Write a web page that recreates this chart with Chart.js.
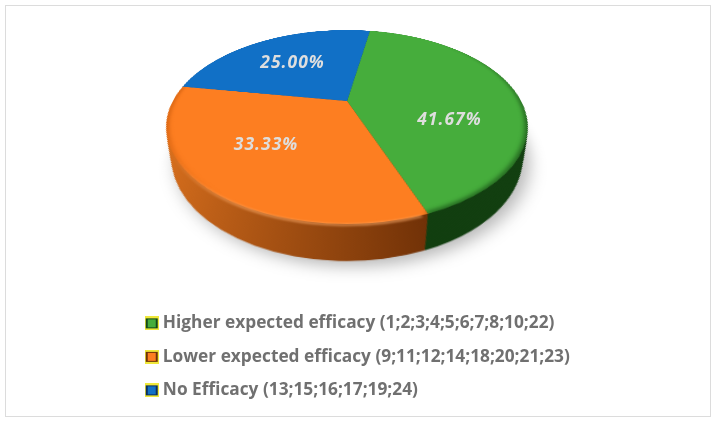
<!DOCTYPE html>
<html><head><meta charset="utf-8">
<script src="https://cdn.jsdelivr.net/npm/chart.js@4"></script>
<style>
html,body{margin:0;padding:0;background:#fff;width:716px;height:423px;overflow:hidden}
canvas{position:absolute;left:0;top:0;display:block}
#frame{position:absolute;left:5px;top:5px;width:704px;height:410px;border:1px solid #dcdcdc}
#disc{transform-origin:0 0}
</style></head><body>
<div id="frame"></div>
<canvas id="disc" width="500" height="540"></canvas>
<canvas id="over" width="716" height="423"></canvas>
<script>
const categories=["Higher expected efficacy (1;2;3;4;5;6;7;8;10;22)","Lower expected efficacy (9;11;12;14;18;20;21;23)","No Efficacy (13;15;16;17;19;24)"];
const shares=[41.67,33.33,25.00];
const shareLabels=["41.67%","33.33%","25.00%"];
const topColors=["#46ad3c","#fd7e21","#1170c6"];
const wallStops=[["#103c0e","#123f10"],["#e0741f","#682c05"],["#0b4a86","#0b4a86"]];
const markerDark=["#14491a","#6b3208","#0c2f5c"];
const labelNudge=[[0,24],[-5,-3],[-1,1]];

// projective placement of the disc on the page
const CX=347,CY=101,A_=174,B_=90,K=.268,R=180,C0=250;
function proj(u,v){const w=1-K*v;return [CX+A_*u/w,CY+B_*v/w];}
const A=1+K*C0/R,B=-K/R,sx=A_/R,sy=B_/R;
document.getElementById('disc').style.transform='matrix3d('+[sx,0,0,0, CX*B,CY*B+sy,0,B, 0,0,1,0, CX*A-sx*C0,CY*A-sy*C0,0,A].join(',')+')';

const WALL_Y=37,WALL_BOTTOM=224,LAYERS=60,SHRINK=.11;
function vOfY(y){const d=y-CY;return d/(B_+K*d);}
const deg=d=>d/360;
const wallPlugin={id:'wall',beforeDatasetsDraw(chart){
  const ctx=chart.ctx,arcs=chart.getDatasetMeta(0).data;
  const x0=arcs[0].x,y0=arcs[0].y;
  // soft shadow under the pie
  {const r=1-SHRINK,c=vOfY(WALL_BOTTOM+WALL_Y)-r;
   ctx.save();ctx.filter='blur(7px)';ctx.fillStyle='rgba(0,0,0,.28)';
   ctx.beginPath();ctx.arc(x0+5,y0+c*R+5,R*r,0,Math.PI*2);ctx.fill();ctx.restore();}
  for(let i=LAYERS;i>=0;i--){
    const t=i/LAYERS,r=1-SHRINK*t,c=vOfY(WALL_BOTTOM+WALL_Y*t)-r;
    arcs.forEach((a,k)=>{
      const g=ctx.createLinearGradient(x0-R,0,x0+R,0);
      if(k===1){g.addColorStop(0,wallStops[1][0]);g.addColorStop(.72,wallStops[1][1]);g.addColorStop(1,wallStops[1][1]);}
      else{g.addColorStop(0,wallStops[k][0]);g.addColorStop(1,wallStops[k][1]);}
      ctx.save();
      ctx.fillStyle=g;
      ctx.beginPath();
      const px=x0,py=y0+c*R;
      ctx.moveTo(px,py);ctx.arc(px,py,R*r,a.startAngle,a.endAngle);ctx.closePath();ctx.fill();
      ctx.restore();
    });
  }
},afterDatasetsDraw(chart){
  const ctx=chart.ctx,arcs=chart.getDatasetMeta(0).data,x0=arcs[0].x,y0=arcs[0].y;
  // soft dark bevel on the green rim
  ctx.save();
  ctx.beginPath();ctx.arc(x0,y0,R,0,Math.PI*2);ctx.clip();
  ctx.filter='blur(2px)';
  const rim=ctx.createConicGradient(-Math.PI/2,x0,y0);
  rim.addColorStop(deg(40),'rgba(10,50,10,0)');
  rim.addColorStop(deg(100),'rgba(10,50,10,.6)');
  rim.addColorStop(deg(160),'rgba(10,50,10,.6)');
  rim.addColorStop(deg(161),'rgba(10,50,10,0)');
  ctx.strokeStyle=rim;ctx.lineWidth=5;
  ctx.beginPath();ctx.arc(x0,y0,R,arcs[0].startAngle,arcs[0].endAngle);ctx.stroke();
  // darker crescent on the far-left rim of the orange, fading in
  const dark=ctx.createConicGradient(0,x0,y0);
  dark.addColorStop(deg(125),'rgba(170,70,0,0)');
  dark.addColorStop(deg(165),'rgba(170,70,0,.55)');
  dark.addColorStop(deg(188),'rgba(170,70,0,.55)');
  dark.addColorStop(deg(192),'rgba(170,70,0,0)');
  ctx.strokeStyle=dark;ctx.lineWidth=4;
  ctx.beginPath();ctx.arc(x0,y0,R,arcs[1].startAngle,arcs[1].endAngle);ctx.stroke();
  ctx.filter='none';ctx.restore();
  // light line where the orange wall meets the top face, fading out leftwards
  ctx.save();
  ctx.filter='blur(1.2px)';
  const lite=ctx.createConicGradient(0,x0,y0);
  lite.addColorStop(deg(68),'rgba(255,175,110,.6)');
  lite.addColorStop(deg(115),'rgba(255,175,110,.6)');
  lite.addColorStop(deg(150),'rgba(255,175,110,0)');
  lite.addColorStop(deg(360),'rgba(255,175,110,0)');
  ctx.strokeStyle=lite;ctx.lineWidth=2.5;
  ctx.beginPath();ctx.arc(x0,y0+1,R,arcs[1].startAngle+.03,arcs[1].endAngle);ctx.stroke();
  ctx.restore();
}};

const disc=new Chart(document.getElementById('disc'),{type:'pie',
  data:{labels:categories,datasets:[{data:shares,backgroundColor:topColors,borderWidth:0}]},
  options:{responsive:false,animation:false,rotation:9.6,radius:R,
    layout:{padding:{left:70,right:70,top:70,bottom:110}},
    plugins:{legend:{display:false},tooltip:{enabled:false}}},
  plugins:[wallPlugin]});

function marker(col,dark){
  const c=document.createElement('canvas');c.width=c.height=14;const x=c.getContext('2d');
  x.fillStyle='#efe83a';x.fillRect(0,0,14,14);
  x.fillStyle=dark;x.fillRect(1,2,12,10);
  x.fillStyle=col;x.beginPath();x.moveTo(3,3);x.lineTo(11,3);x.lineTo(11,11);x.lineTo(3,11);x.closePath();x.fill();
  return c;
}
const markers=topColors.map((c,i)=>marker(c,markerDark[i]));
const labelsPlugin={id:'sliceLabels',afterDraw(chart){
  const ctx=chart.ctx,arcs=disc.getDatasetMeta(0).data;
  ctx.save();
  ctx.font='italic 700 17.5px "Open Sans"';ctx.letterSpacing='1px';ctx.fillStyle='#dedede';ctx.textAlign='center';ctx.textBaseline='middle';
  arcs.forEach((a,i)=>{
    const m=(a.startAngle+a.endAngle)/2,p=proj(.6*Math.cos(m),.6*Math.sin(m));
    ctx.fillText(shareLabels[i],p[0]+labelNudge[i][0],p[1]+labelNudge[i][1]);
  });
  ctx.restore();
}};
new Chart(document.getElementById('over'),{type:'pie',
  data:{labels:categories,datasets:[{data:shares,backgroundColor:'rgba(0,0,0,0)',borderWidth:0}]},
  options:{responsive:false,animation:false,radius:1,
    layout:{padding:{left:133,top:0,right:0,bottom:14}},
    plugins:{tooltip:{enabled:false},
      legend:{position:'bottom',align:'start',
        labels:{usePointStyle:true,pointStyleWidth:5,padding:16.2,color:'#707070',font:{family:'"Open Sans"',size:17.3,weight:'700'},
          generateLabels:()=>categories.map((t,i)=>({text:t,pointStyle:markers[i],fontColor:'#707070',hidden:false,index:i,lineWidth:0}))}}}},
  plugins:[labelsPlugin]});
</script>
</body></html>
